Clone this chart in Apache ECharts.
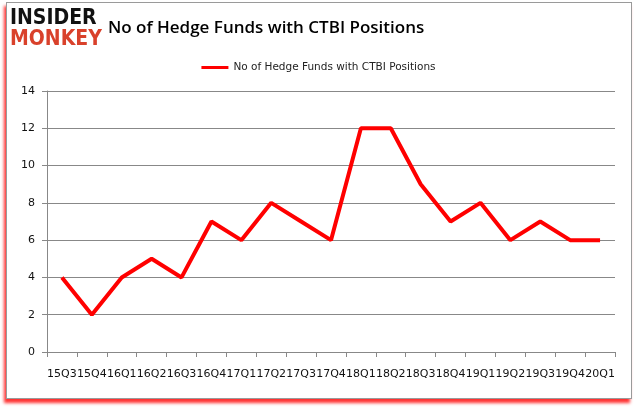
<!DOCTYPE html>
<html>
<head>
<meta charset="utf-8">
<script src="https://cdn.jsdelivr.net/npm/echarts@6/dist/echarts.min.js"></script>
<style>
html,body{margin:0;padding:0;background:#fff;}
#frame{position:absolute;left:6px;top:2px;width:624px;height:395px;border:1px solid #9a9a9a;box-shadow:-2px 4px 3px rgba(255,0,0,0.8);background:#fff;}
#main{position:absolute;left:0;top:0;width:637px;height:408px;}
</style>
</head>
<body>
<div id="frame"></div>
<div id="main"></div>
<script>
const categories = ["15Q3","15Q4","16Q1","16Q2","16Q3","16Q4","17Q1","17Q2","17Q3","17Q4","18Q1","18Q2","18Q3","18Q4","19Q1","19Q2","19Q3","19Q4","20Q1"];
const hedgeFunds = [4,2,4,5,4,7,6,8,7,6,12,12,9,7,8,6,7,6,6];
const yTicks = {min:0, max:14, interval:2};
const seriesName = "No of Hedge Funds with CTBI Positions";
const titleText = "No of Hedge Funds with CTBI Positions";

const chart = echarts.init(document.getElementById('main'), null, {renderer:'canvas'});
chart.setOption({
  animation:false,
  backgroundColor:'transparent',
  title:{
    text:titleText, left:103, top:15,
    textStyle:{fontFamily:'Open Sans', fontSize:17, fontWeight:'600', color:'#000'}
  },
  graphic:[
    {type:'text', left:10, top:8, style:{text:'INSIDER', fontFamily:'DejaVu Sans Condensed', fontWeight:'bold', fontSize:21, fill:'#111'}},
    {type:'text', left:10, top:29, style:{text:'MONKEY', fontFamily:'DejaVu Sans Condensed', fontWeight:'bold', fontSize:21, fill:'#d9412b'}}
  ],
  legend:{
    top:57, left:'center', itemWidth:27, itemHeight:3, icon:'rect',
    textStyle:{fontFamily:'DejaVu Sans', fontSize:10.5, color:'#222'},
    data:[seriesName]
  },
  grid:{left:47, right:22, top:91, bottom:56},
  xAxis:{
    type:'category', data:categories, boundaryGap:true,
    axisLine:{lineStyle:{color:'#888'}},
    axisTick:{show:true, interval:0, length:5, lineStyle:{color:'#888'}},
    axisLabel:{interval:0, margin:17, fontFamily:'DejaVu Sans', fontSize:11, color:'#111'}
  },
  yAxis:{
    type:'value', min:yTicks.min, max:yTicks.max, interval:yTicks.interval,
    axisLine:{show:true, lineStyle:{color:'#888'}},
    axisTick:{show:true, length:5, lineStyle:{color:'#888'}},
    splitLine:{lineStyle:{color:'#888'}},
    axisLabel:{margin:12, fontFamily:'DejaVu Sans', fontSize:11, color:'#111'}
  },
  series:[{
    name:seriesName, type:'line', data:hedgeFunds,
    symbol:'none', lineStyle:{color:'#ff0000', width:4}, itemStyle:{color:'#ff0000'}
  }]
});
</script>
</body>
</html>
